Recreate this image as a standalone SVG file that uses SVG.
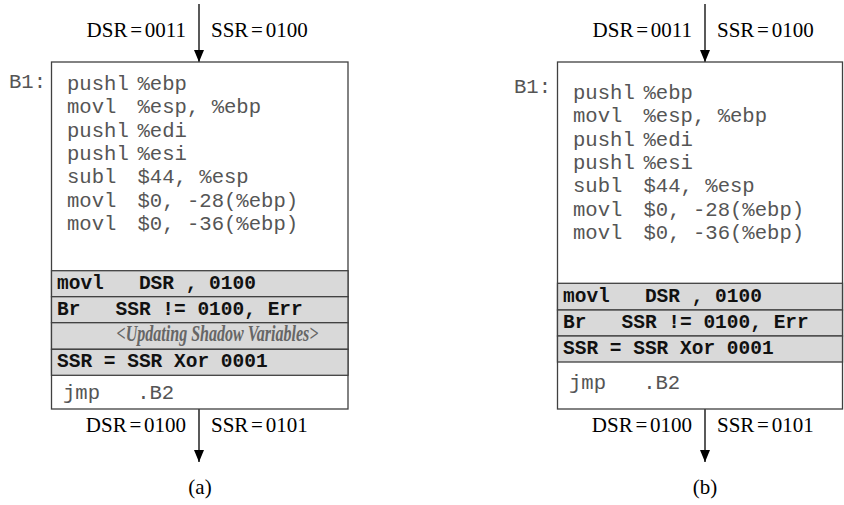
<svg xmlns="http://www.w3.org/2000/svg" width="844" height="505" viewBox="0 0 844 505">
  <style>
    .box { fill: #ffffff; stroke: #404040; stroke-width: 1.3; }
    .band { fill: #d9d9d9; stroke: #404040; stroke-width: 1.3; }
    .code { font-family: "Liberation Mono", "Courier New", monospace; font-size: 20.6px; fill: #555555; }
    .bold { font-family: "Liberation Mono", "Courier New", monospace; font-size: 19.5px; font-weight: bold; fill: #111111; }
    .note { font-family: "Liberation Serif", "Times New Roman", serif; font-size: 23px; font-weight: bold; font-style: italic; fill: #666666; }
    .lbl { font-family: "Liberation Serif", "Times New Roman", serif; font-size: 21px; fill: #000000; word-spacing: -2.5px; }
    .cap { font-family: "Liberation Serif", "Times New Roman", serif; font-size: 21px; fill: #000000; text-anchor: middle; }
    .edge { stroke: #000000; stroke-width: 1.3; fill: none; marker-end: url(#head); }
  </style>
  <defs>
    <!-- filled arrowhead, tip at the end of the line -->
    <marker id="head" viewBox="0 0 12 10" refX="12" refY="5" markerWidth="12" markerHeight="10" markerUnits="userSpaceOnUse" orient="auto">
      <path d="M0,0 L12,5 L0,10 Z" fill="#000000"/>
    </marker>
  </defs>

  <rect width="844" height="505" fill="#ffffff"/>

  <!-- connectors: flow into and out of each block -->
  <g id="connectors">
    <line class="edge" x1="199" y1="4" x2="199" y2="62"/>
    <line class="edge" x1="199" y1="409" x2="199" y2="462"/>
    <line class="edge" x1="705" y1="4" x2="705" y2="62"/>
    <line class="edge" x1="705" y1="409" x2="705" y2="462"/>
    <text class="lbl" x="186" y="37" text-anchor="end">DSR = 0011</text>
    <text class="lbl" x="211" y="37">SSR = 0100</text>
    <text class="lbl" x="186" y="432" text-anchor="end">DSR = 0100</text>
    <text class="lbl" x="211" y="432">SSR = 0101</text>
    <text class="lbl" x="692" y="37" text-anchor="end">DSR = 0011</text>
    <text class="lbl" x="717" y="37">SSR = 0100</text>
    <text class="lbl" x="692" y="432" text-anchor="end">DSR = 0100</text>
    <text class="lbl" x="717" y="432">SSR = 0101</text>
  </g>

  <!-- block (a): B1 with shadow-variable update -->
  <g id="block-a">
    <rect class="box" x="51.5" y="62" width="296.5" height="347"/>
    <text class="code" x="9" y="88">B1:</text>
    <g class="code">
      <text x="67" y="90">pushl</text><text x="137.5" y="90">%ebp</text>
      <text x="67" y="113.3">movl</text><text x="137.5" y="113.3">%esp, %ebp</text>
      <text x="67" y="136.7">pushl</text><text x="137.5" y="136.7">%edi</text>
      <text x="67" y="160">pushl</text><text x="137.5" y="160">%esi</text>
      <text x="67" y="183.3">subl</text><text x="137.5" y="183.3">$44, %esp</text>
      <text x="67" y="206.7">movl</text><text x="137.5" y="206.7">$0, -28(%ebp)</text>
      <text x="67" y="230">movl</text><text x="137.5" y="230">$0, -36(%ebp)</text>
    </g>
    <rect class="band" x="51.5" y="270.7" width="296.5" height="26"/>
    <rect class="band" x="51.5" y="296.7" width="296.5" height="26"/>
    <rect class="band" x="51.5" y="322.7" width="296.5" height="26.6"/>
    <rect class="band" x="51.5" y="349.3" width="296.5" height="26"/>
    <text class="bold" x="57" y="288.5" xml:space="preserve">movl   DSR , 0100</text>
    <text class="bold" x="57" y="314.5" xml:space="preserve">Br   SSR != 0100, Err</text>
    <text class="note" x="116.5" y="341" textLength="202" lengthAdjust="spacingAndGlyphs">&lt;Updating Shadow Variables&gt;</text>
    <text class="bold" x="57" y="367" xml:space="preserve">SSR = SSR Xor 0001</text>
    <text class="code" x="63" y="399" xml:space="preserve">jmp   .B2</text>
  </g>

  <!-- block (b): B1 without the update -->
  <g id="block-b">
    <rect class="box" x="557.5" y="62" width="285" height="347"/>
    <text class="code" x="514" y="93">B1:</text>
    <g class="code">
      <text x="573" y="99">pushl</text><text x="643.5" y="99">%ebp</text>
      <text x="573" y="122.3">movl</text><text x="643.5" y="122.3">%esp, %ebp</text>
      <text x="573" y="145.7">pushl</text><text x="643.5" y="145.7">%edi</text>
      <text x="573" y="169">pushl</text><text x="643.5" y="169">%esi</text>
      <text x="573" y="192.3">subl</text><text x="643.5" y="192.3">$44, %esp</text>
      <text x="573" y="215.7">movl</text><text x="643.5" y="215.7">$0, -28(%ebp)</text>
      <text x="573" y="239">movl</text><text x="643.5" y="239">$0, -36(%ebp)</text>
    </g>
    <rect class="band" x="557.5" y="283.3" width="285" height="26.7"/>
    <rect class="band" x="557.5" y="310" width="285" height="26"/>
    <rect class="band" x="557.5" y="336" width="285" height="26"/>
    <text class="bold" x="563" y="301.5" xml:space="preserve">movl   DSR , 0100</text>
    <text class="bold" x="563" y="327.5" xml:space="preserve">Br   SSR != 0100, Err</text>
    <text class="bold" x="563" y="353.5" xml:space="preserve">SSR = SSR Xor 0001</text>
    <text class="code" x="569" y="389" xml:space="preserve">jmp   .B2</text>
  </g>

  <text class="cap" x="200" y="494">(a)</text>
  <text class="cap" x="705" y="494">(b)</text>
</svg>
